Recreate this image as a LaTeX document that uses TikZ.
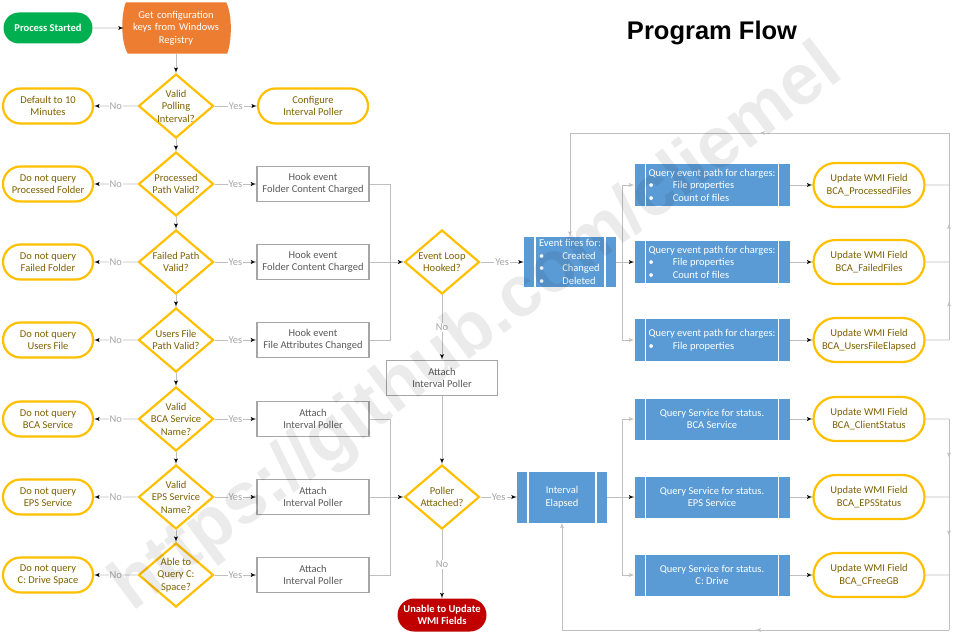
\documentclass[tikz,border=0pt]{standalone}
\usepackage{fontspec}
\setmainfont{Carlito}
\newfontfamily\titlefont{Liberation Sans}
\usetikzlibrary{arrows,positioning,shapes.geometric,shapes.misc,decorations.markings,backgrounds}

\definecolor{gold}{HTML}{FFC000}
\definecolor{golddark}{HTML}{7F6000}
\definecolor{flowgreen}{HTML}{00B050}
\definecolor{floworange}{HTML}{ED7D31}
\definecolor{flowblue}{HTML}{5B9BD5}
\definecolor{flowred}{HTML}{C00000}
\definecolor{linegray}{HTML}{BFBFBF}
\definecolor{boxgray}{HTML}{A6A6A6}
\definecolor{textgray}{HTML}{595959}

\tikzset{
  term/.style={rounded rectangle,draw=gold,line width=2.2pt,fill=white,text=golddark,
    minimum width=92pt,minimum height=35pt,align=center,inner sep=1pt},
  wmi/.style={term,minimum width=113pt,minimum height=44pt},
  ends/.style={rounded rectangle,text=white,font=\fontsize{10.5}{12.5}\selectfont\bfseries,
    minimum width=91pt,minimum height=31pt,align=center,inner sep=1pt},
  dec/.style={diamond,draw=gold,line width=2.2pt,fill=white,minimum width=75pt,
    minimum height=64pt,inner sep=0pt,label={[text=golddark,align=center]center:{#1}}},
  hook/.style={rectangle,draw=boxgray,line width=1.6pt,fill=white,text=textgray,
    minimum width=112pt,minimum height=35pt,align=center},
  proc/.style={rectangle,fill=flowblue,text=white,minimum width=155pt,minimum height=42pt,
    inner sep=1pt,align=center,
    path picture={\draw[white,line width=1.2pt]
      ([xshift=11pt]path picture bounding box.north west) -- ([xshift=11pt]path picture bounding box.south west)
      ([xshift=-11pt]path picture bounding box.north east) -- ([xshift=-11pt]path picture bounding box.south east);}},
  conn/.style={draw=linegray,line width=0.9pt},
  lbl/.style={fill=white,inner sep=1pt,text=boxgray},
  midarr/.style={postaction={decorate},
    decoration={markings,mark=at position .5 with {\arrow[linegray]{>}}}}
}

\begin{document}
\begin{tikzpicture}[>=latex',x=1pt,y=-1pt,node distance=78pt,on grid,
  font=\fontsize{10.5}{12.5}\selectfont]

\useasboundingbox (0,0) rectangle (960,642);

% start and registry
\node[ends,fill=flowgreen] (start) at (48,28) {Process Started};
\node[rectangle,text=white,minimum width=104pt,minimum height=51pt,inner sep=0pt,
  text width=100pt,align=center] (reg) [right=128pt of start] {Get configuration\\keys from Windows\\Registry};

\node (title) at (712,33) {\titlefont\bfseries\fontsize{25.5}{30}\selectfont Program Flow};

% decision column
\node[dec={Valid\\Polling\\Interval?}]       (dPoll)  [below=of reg]   {};
\node[dec={Processed\\Path Valid?}]          (dProc)  [below=of dPoll] {};
\node[dec={Failed Path\\Valid?}]             (dFail)  [below=of dProc] {};
\node[dec={Users File\\Path Valid?}]         (dUser)  [below=of dFail] {};
\node[dec={Valid\\BCA Service\\Name?}]       (dBca)   [below=79pt of dUser] {};
\node[dec={Valid\\EPS Service\\Name?}]       (dEps)   [below=of dBca]  {};
\node[dec={Able to\\Query C:\\Space?}]       (dDrive) [below=of dEps]  {};

% no side
\node[term] (tDefault) [left=128pt of dPoll]  {Default to 10\\Minutes};
\node[term] (tProc)    [left=128pt of dProc]  {Do not query\\Processed Folder};
\node[term] (tFail)    [left=128pt of dFail]  {Do not query\\Failed Folder};
\node[term] (tUser)    [left=128pt of dUser]  {Do not query\\Users File};
\node[term] (tBca)     [left=128pt of dBca]   {Do not query\\BCA Service};
\node[term] (tEps)     [left=128pt of dEps]   {Do not query\\EPS Service};
\node[term] (tDrive)   [left=128pt of dDrive] {Do not query\\C: Drive Space};

% yes side
\node[term,minimum width=112pt] (tConfig) [right=137pt of dPoll] {Configure\\Interval Poller};
\node[hook] (hProc)  [right=137pt of dProc]  {Hook event\\Folder Content Charged};
\node[hook] (hFail)  [right=137pt of dFail]  {Hook event\\Folder Content Charged};
\node[hook] (hUser)  [right=137pt of dUser]  {Hook event\\File Attributes Changed};
\node[hook] (aBca)   [right=137pt of dBca]   {Attach\\Interval Poller};
\node[hook] (aEps)   [right=137pt of dEps]   {Attach\\Interval Poller};
\node[hook] (aDrive) [right=137pt of dDrive] {Attach\\Interval Poller};

% middle
\node[dec={Event Loop\\Hooked?}] (dLoop)   [right=266pt of dFail] {};
\node[hook,minimum width=111pt]  (aMid)    [below=116pt of dLoop] {Attach\\Interval Poller};
\node[dec={Poller\\Attached?}]   (dPoller) [right=266pt of dEps]  {};
\node[ends,fill=flowred,minimum height=33pt] (tUnable) [below=118pt of dPoller] {Unable to Update\\WMI Fields};

\node[proc,minimum width=92pt,minimum height=50pt,inner sep=0pt,align=left] (evt) [right=128pt of dLoop]
  {Event fires for:\\ \textbullet\hspace{18pt}Created\\ \textbullet\hspace{18pt}Changed\\ \textbullet\hspace{18pt}Deleted};
\node[proc,minimum width=90pt,minimum height=51pt] (elapsed) [right=120pt of dPoller] {Interval\\Elapsed};

% query boxes
\node[proc,align=left] (qFail) [right=142pt of evt]
  {Query event path for charges:\\ \textbullet\hspace{19pt}File properties\\ \textbullet\hspace{19pt}Count of files};
\node[proc,align=left] (qProc) [above=77pt of qFail]
  {Query event path for charges:\\ \textbullet\hspace{19pt}File properties\\ \textbullet\hspace{19pt}Count of files};
\node[proc,align=left] (qUser) [below=of qFail]
  {Query event path for charges:\\ \textbullet\hspace{19pt}File properties};

\node[proc,minimum height=41pt] (sEps)   [right=150pt of elapsed] {Query Service for status.\\EPS Service};
\node[proc,minimum height=41pt] (sBca)   [above=of sEps]          {Query Service for status.\\BCA Service};
\node[proc,minimum height=41pt] (sDrive) [below=of sEps]          {Query Service for status.\\C: Drive};

% wmi fields
\node[wmi] (wProc)   [right=157pt of qProc]  {Update WMI Field\\BCA\_ProcessedFiles};
\node[wmi] (wFail)   [right=157pt of qFail]  {Update WMI Field\\BCA\_FailedFiles};
\node[wmi] (wUser)   [right=157pt of qUser]  {Update WMI Field\\BCA\_UsersFileElapsed};
\node[wmi] (wClient) [right=157pt of sBca]   {Update WMI Field\\BCA\_ClientStatus};
\node[wmi] (wEps)    [right=157pt of sEps]   {Update WMI Field\\BCA\_EPSStatus};
\node[wmi] (wFree)   [right=157pt of sDrive] {Update WMI Field\\BCA\_CFreeGB};

% registry shape
\begin{scope}[on background layer]
  \fill[white] (0,0) rectangle (960,642);
  \fill[floworange] ([xshift=2pt]reg.north west) -- ([xshift=-2pt]reg.north east)
    .. controls +(6,12) and +(5,-14) .. ([xshift=-1pt]reg.south east)
    -- ([xshift=4pt]reg.south west)
    .. controls +(-7,-12) and +(-5,14) .. ([xshift=2pt]reg.north west) -- cycle;
\end{scope}

% junctions
\coordinate (jA) at ([xshift=-12.5pt]dLoop.west);
\coordinate (jB) at ([xshift=-12.5pt]dPoller.west);
\coordinate (fA) at ([xshift=-12pt]qFail.west);
\coordinate (fB) at ([xshift=-12pt]sEps.west);
\coordinate (rT) at (949,133);
\coordinate (lT) at (evt.north |- rT);
\coordinate (rP) at (rT |- wProc.east);
\coordinate (rF) at (rT |- wFail.east);
\coordinate (rU) at (rT |- wUser.east);
\coordinate (rC) at (rT |- wClient.east);
\coordinate (rE) at (rT |- wEps.east);
\coordinate (rG) at (rT |- wFree.east);
\coordinate (rB) at (949,630);
\coordinate (lB) at (elapsed.south |- rB);

	\path[conn,->] (start) edge (reg)
						(reg) edge (dPoll)
						(dPoll) edge (dProc)
						(dProc) edge (dFail)
						(dFail) edge (dUser)
						(dUser) edge (dBca)
						(dBca) edge (dEps)
						(dEps) edge (dDrive)

						(dPoll) edge node[lbl]{No} (tDefault)
								edge node[lbl]{Yes} (tConfig)
						(dProc) edge node[lbl]{No} (tProc)
								edge node[lbl]{Yes} (hProc)
						(dFail) edge node[lbl]{No} (tFail)
								edge node[lbl]{Yes} (hFail)
						(dUser) edge node[lbl]{No} (tUser)
								edge node[lbl]{Yes} (hUser)
						(dBca) edge node[lbl]{No} (tBca)
								edge node[lbl]{Yes} (aBca)
						(dEps) edge node[lbl]{No} (tEps)
								edge node[lbl]{Yes} (aEps)
						(dDrive) edge node[lbl]{No} (tDrive)
								edge node[lbl]{Yes} (aDrive)

						(hFail) edge (dLoop)
						(aEps) edge (dPoller)
						(dLoop) edge node[lbl]{No} (aMid)
								edge node[lbl]{Yes} (evt)
						(aMid) edge (dPoller)
						(dPoller) edge node[lbl]{No} (tUnable)
								edge node[lbl]{Yes} (elapsed)

						(evt) edge (qFail)
						(elapsed) edge (sEps)
						(qProc) edge (wProc)
						(qFail) edge (wFail)
						(qUser) edge (wUser)
						(sBca) edge (wClient)
						(sEps) edge (wEps)
						(sDrive) edge (wFree);

\draw[conn] (hProc) -| (jA);
\draw[conn] (hUser) -| (jA);
\draw[conn] (aBca) -| (jB);
\draw[conn] (aDrive) -| (jB);
\draw[conn,->] (fA) |- (qProc);
\draw[conn,->] (fA) |- (qUser);
\draw[conn,->] (fB) |- (sBca);
\draw[conn,->] (fB) |- (sDrive);

% back to the event loop
\draw[conn] (wProc) -- (rP) (wFail) -- (rF) (wUser) -- (rU);
\draw[conn,midarr] (rU) -- (rF);
\draw[conn,midarr] (rF) -- (rP);
\draw[conn] (rP) -- (rT);
\draw[conn,midarr] (rT) -- (lT);
\draw[conn,->] (lT) -- (evt);

% back to the poller
\draw[conn] (wClient) -- (rC) (wEps) -- (rE) (wFree) -- (rG);
\draw[conn,midarr] (rC) -- (rE);
\draw[conn,midarr] (rE) -- (rG);
\draw[conn] (rG) -- (rB);
\draw[conn,midarr] (rB) -- (lB);
\draw[conn,->] (lB) -- (elapsed);

% watermark
\node[rotate=36.9,text=black,opacity=.08,font=\titlefont\bfseries\fontsize{72}{72}\selectfont]
  (mark) at (478,330) {https://github.com/cliemel};

\end{tikzpicture}
\end{document}
